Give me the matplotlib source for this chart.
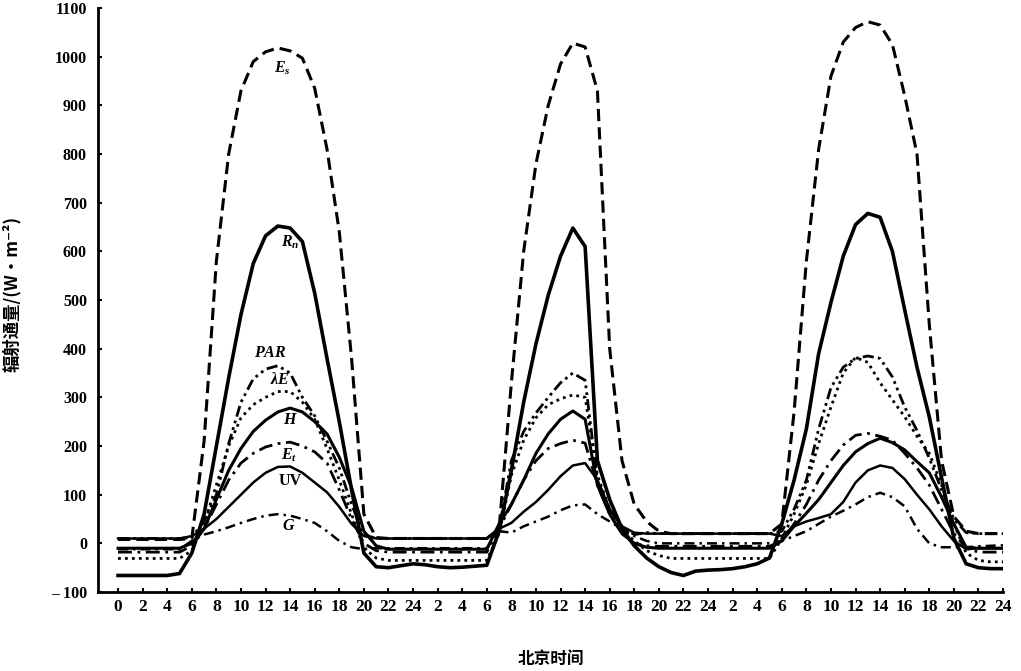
import numpy as np
import matplotlib
matplotlib.use('Agg')
import matplotlib.pyplot as plt

plt.rcParams['mathtext.fontset'] = 'custom'
plt.rcParams['mathtext.it'] = 'Liberation Serif:italic:bold'
plt.rcParams['mathtext.rm'] = 'Liberation Serif:bold'
plt.rcParams['mathtext.bf'] = 'Liberation Serif:bold'
plt.rcParams['lines.solid_joinstyle'] = 'round'
plt.rcParams['lines.dash_joinstyle'] = 'round'

#hours since start of the 3-day record
hours = np.arange(0, 73)

es = [8, 8, 8, 8, 8, 8,
      10, 210, 580, 800, 930, 990, 1010, 1018, 1012, 997, 935, 810, 640, 380, 60, 12,
      10, 10, 10, 10, 10, 10, 10, 10, 10,
      30, 330, 600, 780, 900, 985, 1028, 1020, 930, 400, 170, 80, 45, 25,
      20, 20, 20, 20, 20, 20, 20, 20, 20,
      40, 270, 580, 810, 960, 1030, 1060, 1072, 1065, 1025, 920, 800, 450, 170, 55, 25, 20, 20, 20]

rn = [-66, -66, -66, -66, -66, -62,
      -20, 60, 200, 340, 470, 575, 632, 652, 648, 620, 514, 380, 250, 110, -20, -48,
      -50, -46, -42, -44, -48, -50, -49, -47, -45,
      25, 150, 290, 410, 510, 590, 648, 610, 170, 90, 30, -5, -30, -48,
      -60, -66, -57, -55, -54, -52, -48, -42, -30,
      40, 130, 235, 390, 495, 590, 655, 678, 670, 600, 480, 362, 260, 135, 10, -42, -50, -52, -52]

par = [10, 10, 10, 10, 10, 10,
       12, 45, 100, 205, 290, 338, 358, 365, 350, 300, 262, 210, 155, 80, 18, 10,
       10, 10, 10, 10, 10, 10, 10, 10, 10,
       30, 170, 230, 268, 300, 330, 350, 335, 130, 70, 35, 18, 22, 20,
       20, 20, 20, 20, 20, 20, 20, 20, 20,
       25, 70, 130, 235, 320, 362, 380, 385, 380, 342, 280, 232, 175, 110, 50, 22, 20, 20, 20]

le = [-31, -31, -31, -31, -31, -31,
      -15, 40, 120, 200, 258, 285, 300, 312, 312, 290, 255, 195, 130, 60, -10, -30,
      -35, -35, -35, -35, -35, -35, -35, -35, -35,
      20, 140, 212, 258, 285, 297, 305, 300, 140, 70, 30, 5, -15, -25,
      -31, -31, -31, -31, -31, -31, -31, -31, -31,
      10, 60, 120, 205, 280, 350, 382, 372, 330, 295, 260, 220, 185, 120, 40, -20, -35, -38, -38]

h = [-10, -10, -10, -10, -10, -10,
     0, 30, 90, 150, 195, 230, 253, 270, 278, 270, 250, 225, 177, 115, 25, -5,
     -12, -12, -12, -12, -12, -12, -12, -12, -12,
     40, 80, 130, 185, 225, 255, 272, 255, 120, 60, 20, 0, -8, -10,
     -10, -10, -10, -10, -10, -10, -10, -10, -10,
     5, 35, 62, 90, 125, 160, 188, 205, 216, 207, 192, 168, 145, 95, 40, -8, -10, -10, -10]

et = [-18, -18, -18, -18, -18, -18,
      -5, 30, 80, 130, 165, 185, 198, 205, 208, 200, 188, 165, 110, 50, 0, -15,
      -18, -18, -18, -18, -18, -18, -18, -18, -18,
      30, 80, 130, 170, 195, 205, 212, 206, 120, 60, 20, 0, -5, -6,
      -6, -6, -6, -6, -6, -6, -6, -6, -6,
      5, 40, 80, 130, 170, 202, 222, 226, 220, 212, 185, 155, 120, 70, 20, -10, -18, -18, -18]

uv = [10, 10, 10, 10, 10, 10,
      15, 30, 50, 75, 100, 125, 145, 157, 158, 145, 125, 105, 75, 40, 15, 10,
      10, 10, 10, 10, 10, 10, 10, 10, 10,
      30, 42, 65, 85, 110, 138, 160, 165, 130, 70, 35, 22, 20, 20,
      20, 20, 20, 20, 20, 20, 20, 20, 20,
      15, 35, 45, 52, 60, 85, 125, 150, 160, 155, 132, 100, 70, 35, 5, -12, -10, -10, -10]

g = [-12, -12, -12, -12, -12, -12,
     5, 18, 25, 33, 42, 50, 57, 60, 57, 50, 42, 25, 5, -8, -12, -10,
     -10, -10, -10, -10, -10, -10, -10, -10, -10,
     25, 22, 35, 45, 55, 68, 78, 80, 60, 45, 30, 15, 5, 0,
     0, 0, 0, 0, 0, 0, 0, 0, 0,
     5, 15, 25, 40, 55, 67, 80, 95, 104, 95, 76, 30, 0, -8, -8, -8, -6, -5, -4]

xticks = list(range(0, 73, 2))
xtick_labels = ['0'] + [str(t % 24 if t % 24 else 24) for t in xticks[1:]]
yticks = list(range(-100, 1101, 100))
ytick_labels = ['\u2013 100'] + [str(v) for v in yticks[1:]]

#curve labels: text, hour, value
lbl_text = [r'$E_s$', r'$R_n$', r'$PAR$', r'$\lambda E$', r'$H$', r'$E_t$', 'UV', r'$G$']
lbl_x = [13.4, 14.0, 12.4, 13.2, 14.0, 13.9, 14.0, 13.9]
lbl_y = [977, 619, 391, 336, 253, 181, 128, 36]

fig = plt.figure(figsize=(10.21, 6.71), dpi=100)
ax = fig.add_axes([0.096, 0.1177, 0.8864, 0.8703])

ax.plot(hours, es, color='black', lw=2.2, linestyle=(0, (4, 2)))
ax.plot(hours, rn, color='black', lw=2.6)
ax.plot(hours, par, color='black', lw=2.0, linestyle=(0, (4, 1.5, 1, 1.5, 1, 1.5)))
ax.plot(hours, le, color='black', lw=2.0, linestyle=(0, (1, 1.5)))
ax.plot(hours, h, color='black', lw=2.2)
ax.plot(hours, et, color='black', lw=2.0, linestyle=(0, (5, 2, 1, 2)))
ax.plot(hours, uv, color='black', lw=1.8)
ax.plot(hours, g, color='black', lw=1.8, linestyle=(0, (4, 2, 1, 2)))

for t, x, y in zip(lbl_text, lbl_x, lbl_y):
    ax.text(x, y, t, fontsize=11.5, ha='center', va='center',
            family='Liberation Serif', weight='bold', color='black')

ax.set_xlim(-1.63, 72)
ax.set_ylim(-100, 1100)
ax.spines['top'].set_visible(False)
ax.spines['right'].set_visible(False)
ax.spines['left'].set_linewidth(2)
ax.spines['bottom'].set_linewidth(2)
ax.set_xticks(xticks)
ax.set_xticklabels(xtick_labels, family='Liberation Serif', weight='bold', fontsize=12.5)
ax.set_yticks(yticks)
ax.set_yticklabels(ytick_labels, family='Liberation Serif', weight='bold', fontsize=11.5)
ax.tick_params(axis='both', direction='in', length=3, width=1.5)
ax.tick_params(axis='x', pad=5)
ax.tick_params(axis='y', pad=8)

ax.set_ylabel('辐射通量/(W\u00b7m\u207b\u00b2)',
              family=['Noto Sans CJK SC', 'DejaVu Sans'], weight='bold', fontsize=12.5)
ax.yaxis.set_label_coords(-0.085, 0.51)
ax.set_xlabel('北京时间', family=['Noto Sans CJK SC', 'DejaVu Sans'],
              weight='bold', fontsize=12)
ax.xaxis.set_label_coords(0.5, -0.1)

plt.savefig('out.png', dpi=100)
